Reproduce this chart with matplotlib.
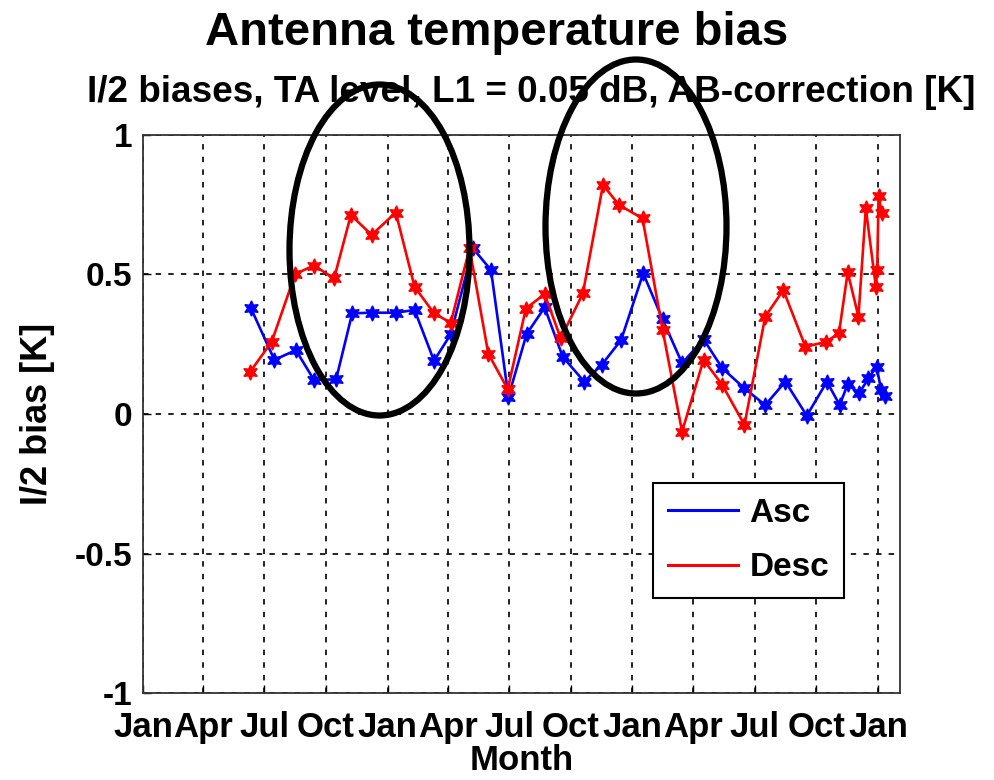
import numpy as np
import matplotlib
matplotlib.use("Agg")
import matplotlib.pyplot as plt
from matplotlib.patches import Ellipse
from matplotlib.lines import Line2D

plt.rcParams['font.family'] = ['Liberation Sans', 'DejaVu Sans']
plt.rcParams['font.weight'] = 'bold'

asc_dates = ['2010-06-11', '2010-07-16', '2010-08-17', '2010-09-13', '2010-10-16', '2010-11-09',
             '2010-12-09', '2011-01-13', '2011-02-10', '2011-03-11', '2011-04-05', '2011-05-08',
             '2011-06-04', '2011-06-30', '2011-07-27', '2011-08-23', '2011-09-19', '2011-10-21',
             '2011-11-16', '2011-12-15', '2012-01-17', '2012-02-15', '2012-03-15', '2012-04-16',
             '2012-05-14', '2012-06-16', '2012-07-17', '2012-08-16', '2012-09-17', '2012-10-17',
             '2012-11-05', '2012-11-17', '2012-12-04', '2012-12-18', '2012-12-30', '2013-01-06',
             '2013-01-11']
asc_vals = [0.379, 0.194, 0.229, 0.122, 0.124, 0.361, 0.363, 0.363, 0.373, 0.191,
            0.286, 0.594, 0.516, 0.062, 0.286, 0.382, 0.205, 0.116, 0.176, 0.265,
            0.504, 0.339, 0.182, 0.268, 0.164, 0.092, 0.032, 0.116, -0.006, 0.116,
            0.032, 0.107, 0.074, 0.128, 0.170, 0.085, 0.065]

desc_dates = ['2010-06-10', '2010-07-12', '2010-08-16', '2010-09-13', '2010-10-13', '2010-11-07',
              '2010-12-08', '2011-01-13', '2011-02-10', '2011-03-11', '2011-04-05', '2011-05-03',
              '2011-05-31', '2011-06-29', '2011-07-26', '2011-08-23', '2011-09-16', '2011-10-19',
              '2011-11-18', '2011-12-12', '2012-01-16', '2012-02-15', '2012-03-15', '2012-04-16',
              '2012-05-14', '2012-06-16', '2012-07-17', '2012-08-13', '2012-09-15', '2012-10-16',
              '2012-11-04', '2012-11-17', '2012-12-03', '2012-12-14', '2012-12-29', '2012-12-31',
              '2013-01-02', '2013-01-07']
desc_vals = [0.152, 0.259, 0.502, 0.532, 0.486, 0.713, 0.642, 0.722, 0.456, 0.361,
             0.327, 0.594, 0.216, 0.089, 0.378, 0.430, 0.271, 0.432, 0.821, 0.749,
             0.701, 0.301, -0.063, 0.194, 0.104, -0.039, 0.349, 0.444, 0.241, 0.259,
             0.290, 0.508, 0.349, 0.737, 0.456, 0.516, 0.780, 0.720]

tick_dates = ['2010-01-01', '2010-04-01', '2010-07-01', '2010-10-01',
              '2011-01-01', '2011-04-01', '2011-07-01', '2011-10-01',
              '2012-01-01', '2012-04-01', '2012-07-01', '2012-10-01', '2013-01-01']
tick_labels = ['Jan', 'Apr', 'Jul', 'Oct', 'Jan', 'Apr', 'Jul', 'Oct',
               'Jan', 'Apr', 'Jul', 'Oct', 'Jan']
y_ticks = [-1, -0.5, 0, 0.5, 1]
y_ticklabels = ['-1', '-0.5', '0', '0.5', '1']

W, H = 994, 780
fig = plt.figure(figsize=(W / 100, H / 100), dpi=100)
ax = fig.add_axes([143 / W, 1 - 693 / H, (900 - 143) / W, (693 - 135) / H])

mk = dict(marker=(6, 1, 0), markersize=11, linewidth=1.9)
ax.plot(np.array(asc_dates, dtype='datetime64[D]'), asc_vals, color=(0, 0, 1), **mk)
ax.plot(np.array(desc_dates, dtype='datetime64[D]'), desc_vals, color=(1, 0, 0), **mk)

ax.set_xlim(np.datetime64('2010-01-01'), np.datetime64('2013-02-03'))
ax.set_ylim(-1, 1)
ax.set_xticks(np.array(tick_dates, dtype='datetime64[D]'))
ax.set_xticklabels(tick_labels, fontsize=25, fontweight='bold')
ax.set_yticks(y_ticks)
ax.set_yticklabels(y_ticklabels, fontsize=24, fontweight='bold')
ax.tick_params(direction='in', length=6, width=1, pad=8)
ax.tick_params(axis='x', pad=13)
ax.grid(True, color='#111111', linestyle=(0, (3, 4)), linewidth=1.3)
for s in ax.spines.values():
    s.set_linewidth(1.3)
    s.set_color('#333333')

ax.set_xlabel('Month', fontsize=25, fontweight='bold', labelpad=0)
ax.set_ylabel('I/2 bias [K]', fontsize=26, fontweight='bold', labelpad=14)

handles = [Line2D([], [], color=(0, 0, 1), linewidth=2.2),
           Line2D([], [], color=(1, 0, 0), linewidth=2.2)]
leg = ax.legend(handles, ['Asc', 'Desc'], loc='upper left',
                bbox_to_anchor=((653 - 143) / 757, (693 - 483) / 558),
                borderaxespad=0, prop={'weight': 'bold', 'size': 24},
                handlelength=2.1, handletextpad=0.35, borderpad=0.45,
                labelspacing=0.7, fancybox=False, framealpha=1, edgecolor='black')
leg.get_frame().set_linewidth(1.5)

fig.text(497 / W, 1 - 33 / H, 'Antenna temperature bias', ha='center', va='center',
         fontsize=34, fontweight='bold')
fig.text(531 / W, 1 - 93 / H, 'I/2 biases, TA level, L1 = 0.05 dB, AB-correction [K]',
         ha='center', va='center', fontsize=26.6, fontweight='bold')

for cx, cy, w, h in [(379.5, 250, 180, 331), (636, 226.5, 181, 334)]:
    e = Ellipse((cx / W, 1 - cy / H), w / W, h / H, transform=fig.transFigure,
                fill=False, edgecolor='black', linewidth=4.5, zorder=20)
    fig.add_artist(e)

fig.savefig('out.png', dpi=100)
